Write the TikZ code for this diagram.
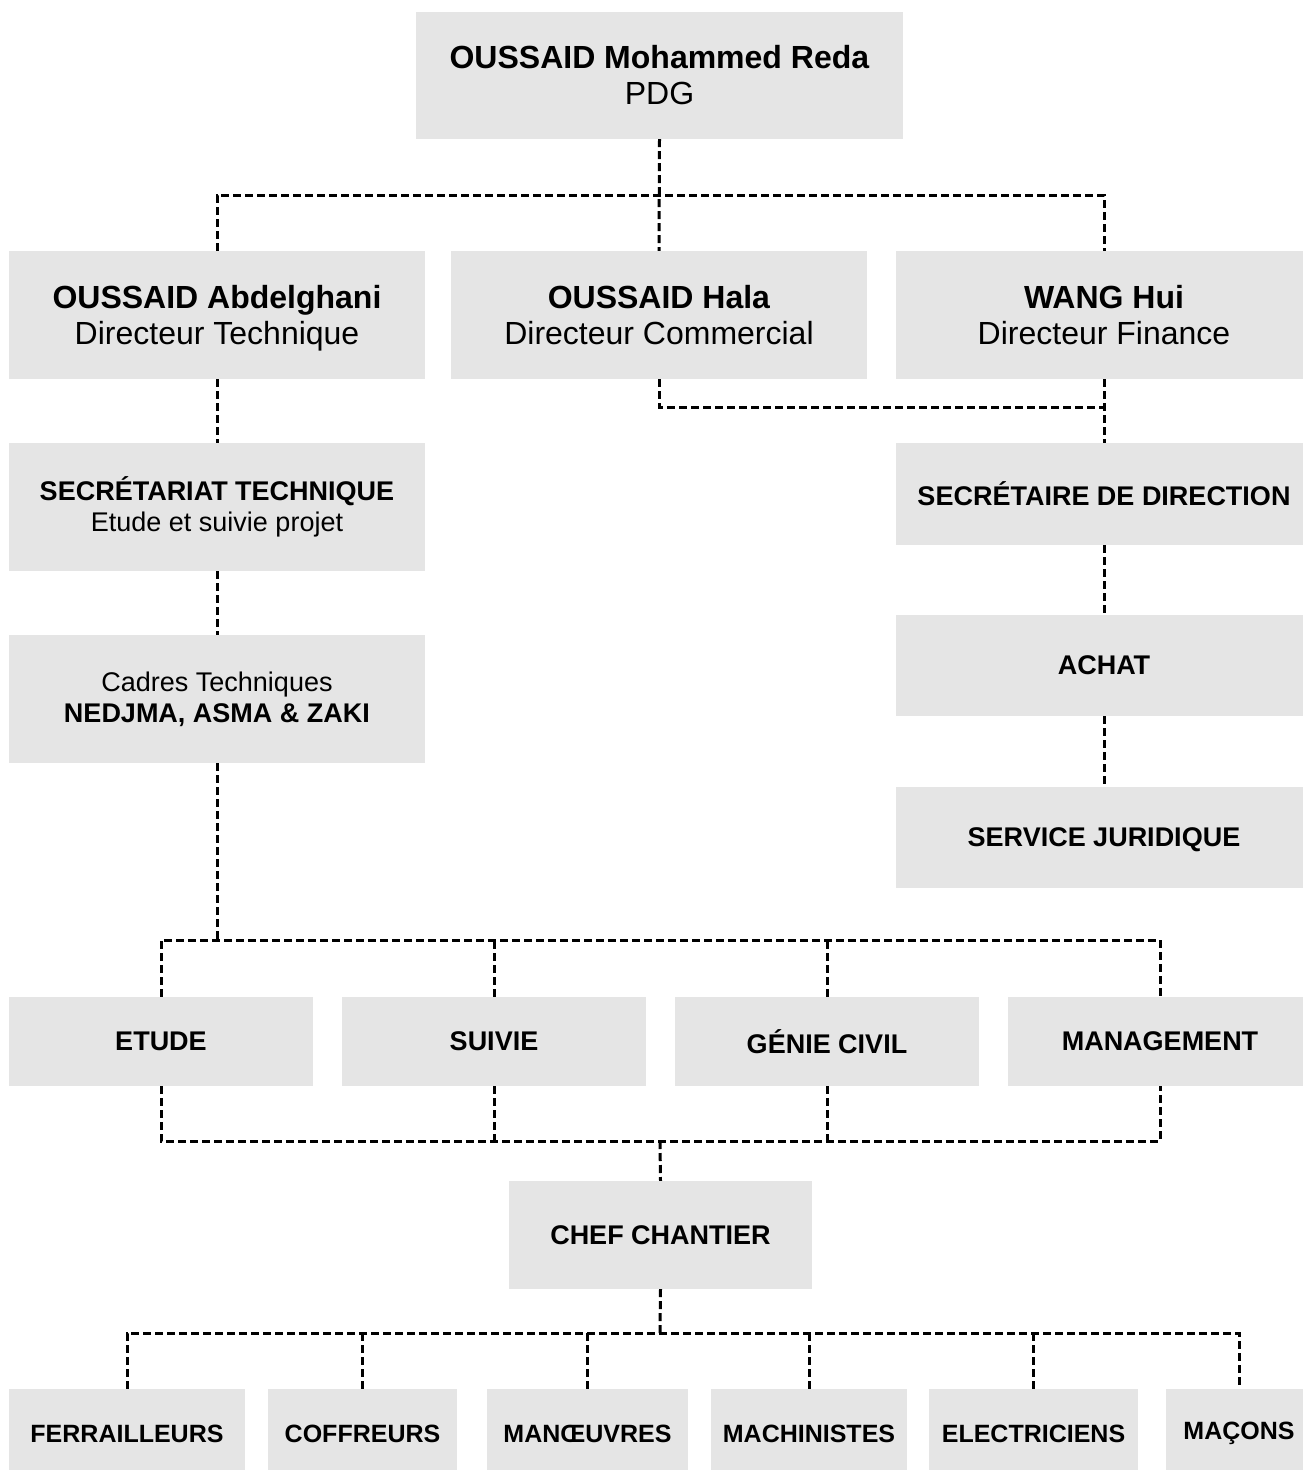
\documentclass[tikz,border=0pt]{standalone}
\usepackage{fontspec}
\setmainfont{Liberation Sans}
\definecolor{boxgray}{RGB}{229,229,229}
\newcommand{\nodepth}[1]{\raisebox{0pt}[\height][0pt]{#1}}
\begin{document}
\begin{tikzpicture}[x=1pt,y=-1pt,
  box/.style={fill=boxgray, draw=none, inner sep=0pt, align=center, font=\fontsize{27}{31}\selectfont},
  big/.style={font=\fontsize{32}{36}\selectfont},
  conn/.style={draw=black, line width=3pt, dash pattern=on 8pt off 4pt}]
\useasboundingbox (0,0) rectangle (1302,1470);
% top
\node[box,big,minimum width=487pt,minimum height=127pt] (pdg) at (659.5,75.5) {\textbf{OUSSAID Mohammed Reda}\\PDG};
% directors
\node[box,big,minimum width=416pt,minimum height=128pt] (tech) at (217,315) {\textbf{OUSSAID Abdelghani}\\\nodepth{Directeur Technique}};
\node[box,big,minimum width=416pt,minimum height=128pt] (comm) at (659,315) {\textbf{OUSSAID Hala}\\Directeur Commercial};
\node[box,big,minimum width=416pt,minimum height=128pt] (fin) at (1104,315) {\textbf{WANG Hui}\\Directeur Finance};
% left column
\node[box,minimum width=416pt,minimum height=128pt] (sectech) at (217,507) {\textbf{SECRÉTARIAT TECHNIQUE}\\Etude et suivie projet};
\node[box,minimum width=416pt,minimum height=128pt] (cadres) at (217,699) {Cadres Techniques\\\textbf{NEDJMA, ASMA \& ZAKI}};
% right column
\node[box,minimum width=416pt,minimum height=102pt] (secdir) at (1104,494) {\raisebox{-2pt}{\textbf{SECRÉTAIRE DE DIRECTION}}};
\node[box,minimum width=416pt,minimum height=101pt] (achat) at (1104,665.5) {\textbf{ACHAT}};
\node[box,minimum width=416pt,minimum height=101pt] (jur) at (1104,837.5) {\nodepth{\textbf{SERVICE JURIDIQUE}}};
% departments
\node[box,minimum width=304pt,minimum height=89pt] (etude) at (161,1041.5) {\textbf{ETUDE}};
\node[box,minimum width=304pt,minimum height=89pt] (suivie) at (494,1041.5) {\textbf{SUIVIE}};
\node[box,minimum width=304pt,minimum height=89pt] (genie) at (827,1041.5) {\raisebox{-3pt}{\textbf{GÉNIE CIVIL}}};
\node[box,minimum width=304pt,minimum height=89pt] (mgmt) at (1160,1041.5) {\textbf{MANAGEMENT}};
% chef
\node[box,minimum width=303pt,minimum height=108pt] (chef) at (660.5,1235) {\textbf{CHEF CHANTIER}};
% workers
\node[box,font=\fontsize{25}{29}\selectfont,minimum width=236pt,minimum height=89pt] (ferr) at (127,1433.5) {\textbf{FERRAILLEURS}};
\node[box,font=\fontsize{25}{29}\selectfont,minimum width=189pt,minimum height=89pt] (coff) at (362.5,1433.5) {\textbf{COFFREURS}};
\node[box,font=\fontsize{25}{29}\selectfont,minimum width=201pt,minimum height=89pt] (manoe) at (587.5,1433.5) {\textbf{MANŒUVRES}};
\node[box,font=\fontsize{25}{29}\selectfont,minimum width=196pt,minimum height=89pt] (mach) at (809,1433.5) {\textbf{MACHINISTES}};
\node[box,font=\fontsize{25}{29}\selectfont,minimum width=209pt,minimum height=89pt] (elec) at (1033.5,1433.5) {\textbf{ELECTRICIENS}};
\node[box,font=\fontsize{25}{29}\selectfont,minimum width=146pt,minimum height=89pt] (macons) at (1239,1433.5) {\raisebox{2pt}{\textbf{MAÇONS}}};
% junction coordinates
\coordinate (j1) at (659,195);
\coordinate (j2) at (1104,407);
\coordinate (j3) at (217,940);
\coordinate (j4) at (660,1141);
\coordinate (j5) at (660,1333);
% connectors
\draw[conn] (pdg.south) -- (comm.north);
\draw[conn] (tech.north) |- (j1) -| (fin.north);
\draw[conn] (comm.south) |- (j2);
\draw[conn] (fin.south) -- (secdir.north);
\draw[conn] (secdir.south) -- (achat.north);
\draw[conn] (achat.south) -- (jur.north);
\draw[conn] (tech.south) -- (sectech.north);
\draw[conn] (sectech.south) -- (cadres.north);
\draw[conn] (cadres.south) -- (j3);
\draw[conn] (etude.north) |- (j3) -| (mgmt.north);
\draw[conn] (suivie.north) -- (suivie.north |- j3);
\draw[conn] (genie.north) -- (genie.north |- j3);
\draw[conn] (etude.south) |- (j4) -| (mgmt.south);
\draw[conn] (suivie.south) -- (suivie.south |- j4);
\draw[conn] (genie.south) -- (genie.south |- j4);
\draw[conn] (j4) -- (chef.north);
\draw[conn] (chef.south) -- (j5);
\draw[conn] (ferr.north) |- (j5) -| (macons.north);
\draw[conn] (coff.north) -- (coff.north |- j5);
\draw[conn] (manoe.north) -- (manoe.north |- j5);
\draw[conn] (mach.north) -- (mach.north |- j5);
\draw[conn] (elec.north) -- (elec.north |- j5);
\end{tikzpicture}
\end{document}
